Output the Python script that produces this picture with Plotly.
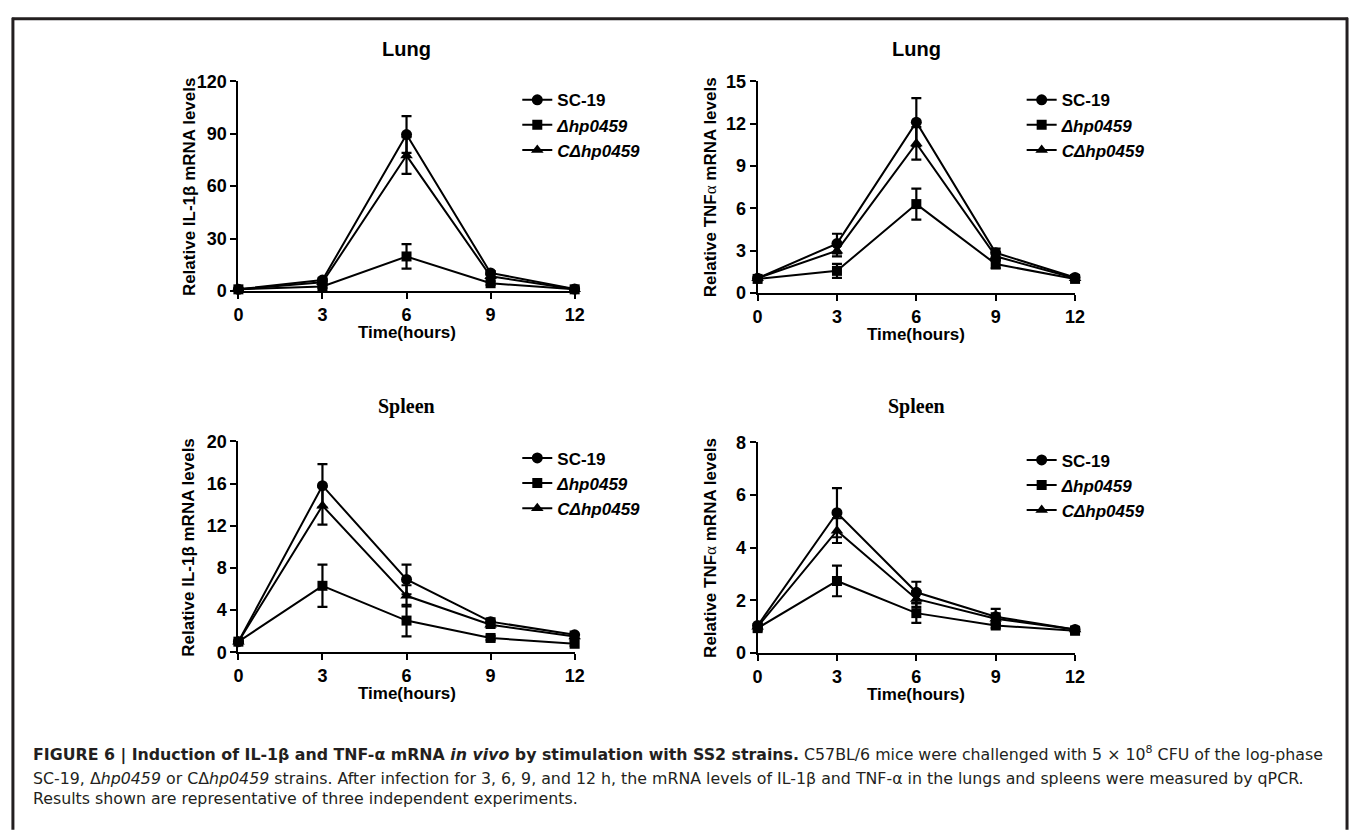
import plotly.graph_objects as go

W, H = 1360, 833

time_h = [0, 3, 6, 9, 12]
x_ticks = [0, 3, 6, 9, 12]
strains = ["SC-19", "Δhp0459", "CΔhp0459"]
legend_labels = ["<b>SC-19</b>", "<b><i>Δhp0459</i></b>", "<b><i>CΔhp0459</i></b>"]
symbols = ["circle", "square", "triangle-up"]

# Lung IL-1β
lung_il1b_sc19 = [1.0, 6.3, 89.5, 10.4, 1.2]
lung_il1b_sc19_err = [0.3, 1.0, 10.5, 1.0, 0.3]
lung_il1b_dhp = [1.0, 2.6, 19.8, 4.5, 1.0]
lung_il1b_dhp_err = [0.3, 0.8, 7.0, 1.0, 0.3]
lung_il1b_cdhp = [1.0, 5.0, 77.5, 8.5, 1.0]
lung_il1b_cdhp_err = [0.3, 1.0, 10.5, 1.0, 0.3]

# Lung TNFα
lung_tnf_sc19 = [1.05, 3.5, 12.1, 2.85, 1.1]
lung_tnf_sc19_err = [0.1, 0.7, 1.7, 0.3, 0.1]
lung_tnf_dhp = [1.0, 1.57, 6.3, 2.05, 1.0]
lung_tnf_dhp_err = [0.1, 0.5, 1.1, 0.3, 0.1]
lung_tnf_cdhp = [1.05, 3.0, 10.6, 2.6, 1.05]
lung_tnf_cdhp_err = [0.1, 0.4, 1.15, 0.3, 0.1]

# Spleen IL-1β
spl_il1b_sc19 = [1.0, 15.8, 6.9, 2.9, 1.65]
spl_il1b_sc19_err = [0.1, 2.05, 1.4, 0.3, 0.3]
spl_il1b_dhp = [1.0, 6.3, 3.0, 1.35, 0.8]
spl_il1b_dhp_err = [0.1, 2.0, 1.5, 0.2, 0.2]
spl_il1b_cdhp = [1.0, 13.9, 5.35, 2.6, 1.5]
spl_il1b_cdhp_err = [0.1, 1.8, 1.0, 0.3, 0.3]

# Spleen TNFα
spl_tnf_sc19 = [1.05, 5.33, 2.31, 1.38, 0.9]
spl_tnf_sc19_err = [0.1, 0.93, 0.4, 0.3, 0.1]
spl_tnf_dhp = [0.95, 2.74, 1.52, 1.05, 0.85]
spl_tnf_dhp_err = [0.1, 0.58, 0.37, 0.1, 0.1]
spl_tnf_cdhp = [1.0, 4.65, 2.06, 1.31, 0.9]
spl_tnf_cdhp_err = [0.1, 0.47, 0.3, 0.2, 0.1]

alpha = "<span style='font-family:Liberation Serif;font-weight:normal'>α</span>"
panels = [
    dict(title="<b>Lung</b>", title_font="Liberation Sans",
         ytitle="Relative IL-1β mRNA levels", ymax=120, dtick=30,
         series=[(lung_il1b_sc19, lung_il1b_sc19_err), (lung_il1b_dhp, lung_il1b_dhp_err), (lung_il1b_cdhp, lung_il1b_cdhp_err)],
         box=(236, 576, 73, 288), legend_xy=(518, 74), ytitle_x=186, title_y=40),
    dict(title="<b>Lung</b>", title_font="Liberation Sans",
         ytitle="Relative TNF" + alpha + " mRNA levels", ymax=15, dtick=3,
         series=[(lung_tnf_sc19, lung_tnf_sc19_err), (lung_tnf_dhp, lung_tnf_dhp_err), (lung_tnf_cdhp, lung_tnf_cdhp_err)],
         box=(761, 1082, 73, 290), legend_xy=(1028, 74), ytitle_x=713, title_y=40),
    dict(title="<b>Spleen</b>", title_font="Liberation Serif",
         ytitle="Relative IL-1β mRNA levels", ymax=20, dtick=4,
         series=[(spl_il1b_sc19, spl_il1b_sc19_err), (spl_il1b_dhp, spl_il1b_dhp_err), (spl_il1b_cdhp, spl_il1b_cdhp_err)],
         box=(236, 576, 442, 658), legend_xy=(518, 441), ytitle_x=186, title_y=406),
    dict(title="<b>Spleen</b>", title_font="Liberation Serif",
         ytitle="Relative TNF" + alpha + " mRNA levels", ymax=8, dtick=2,
         series=[(spl_tnf_sc19, spl_tnf_sc19_err), (spl_tnf_dhp, spl_tnf_dhp_err), (spl_tnf_cdhp, spl_tnf_cdhp_err)],
         box=(761, 1082, 443, 659), legend_xy=(1028, 443), ytitle_x=714, title_y=406),
]

def px_x(p):
    return p / W

def px_y(p):
    return 1 - p / H

fig = go.Figure()
annotations = []
layout = dict(width=W, height=H, margin=dict(l=0, r=0, t=0, b=0),
              paper_bgcolor="white", plot_bgcolor="white", showlegend=True)

font_main = "Liberation Sans"

for i, p in enumerate(panels):
    n = i + 1
    xa = "x" if n == 1 else f"x{n}"
    ya = "y" if n == 1 else f"y{n}"
    lg = "legend" if n == 1 else f"legend{n}"
    x0, x1, y0, y1 = p["box"]
    for k, (vals, errs) in enumerate(p["series"]):
        fig.add_trace(go.Scatter(
            x=time_h, y=vals, mode="lines+markers", name=legend_labels[k],
            xaxis=xa, yaxis=ya, legend=lg, legendgroup=f"g{n}_{k}",
            line=dict(color="black", width=2),
            marker=dict(symbol=symbols[k], size=10 if k == 1 else 11, color="black"),
            error_y=dict(type="data", array=errs, visible=True, color="black", thickness=2.2, width=5),
            cliponaxis=False,
        ))
    axis_common = dict(showline=True, linecolor="black", linewidth=2, ticks="outside",
                       ticklen=6, tickwidth=2, tickcolor="black", showgrid=False, zeroline=False,
                       tickfont=dict(family=font_main, size=18, color="black", weight="bold"))
    layout["xaxis" if n == 1 else f"xaxis{n}"] = dict(
        domain=[px_x(x0), px_x(x1)], range=[0, 12], tickvals=x_ticks,
        anchor=ya, **axis_common)
    layout["yaxis" if n == 1 else f"yaxis{n}"] = dict(
        domain=[px_y(y1), px_y(y0)], range=[0, p["ymax"]], dtick=p["dtick"], tick0=0,
        anchor=xa, **axis_common)
    lx, ly = p["legend_xy"]
    layout[lg] = dict(x=px_x(lx), y=px_y(ly), xanchor="left", yanchor="top",
                      font=dict(family=font_main, size=17, color="black"),
                      bgcolor="rgba(0,0,0,0)", tracegroupgap=0, itemwidth=30)
    annotations.append(dict(text=p["title"], x=px_x((x0 + x1) / 2), y=px_y(p["title_y"]),
                            xref="paper", yref="paper", showarrow=False, xanchor="center", yanchor="middle",
                            font=dict(family=p["title_font"], size=20, color="black")))
    annotations.append(dict(text="<b>" + p["ytitle"] + "</b>", x=px_x(p["ytitle_x"]), y=px_y((y0 + y1) / 2),
                            xref="paper", yref="paper", showarrow=False, textangle=-90,
                            xanchor="center", yanchor="middle",
                            font=dict(family=font_main, size=17, color="black")))
    annotations.append(dict(text="<b>Time(hours)</b>", x=px_x((x0 + x1) / 2), y=px_y(y1 + 42),
                            xref="paper", yref="paper", showarrow=False, xanchor="center", yanchor="middle",
                            font=dict(family=font_main, size=17, color="black")))

cap_font = dict(family="DejaVu Sans", size=15.8, color="#231f20")
cap_lines = [
    "<b>FIGURE 6 | Induction of IL-1β and TNF-α mRNA <i>in vivo</i> by stimulation with SS2 strains.</b> C57BL/6 mice were challenged with 5 × 10<sup>8</sup> CFU of the log-phase",
    "SC-19, Δ<i>hp0459</i> or CΔ<i>hp0459</i> strains. After infection for 3, 6, 9, and 12 h, the mRNA levels of IL-1β and TNF-α in the lungs and spleens were measured by qPCR.",
    "Results shown are representative of three independent experiments.",
]
cap_y = [762, 787, 808]
for t, yy in zip(cap_lines, cap_y):
    annotations.append(dict(text=t, x=px_x(26), y=px_y(yy), xref="paper", yref="paper",
                            showarrow=False, xanchor="left", yanchor="middle", font=cap_font))

frame_col = "#231f20"
shapes = [
    dict(type="line", xref="paper", yref="paper", x0=px_x(7), x1=px_x(1358), y0=px_y(9), y1=px_y(9),
         line=dict(color=frame_col, width=3)),
    dict(type="line", xref="paper", yref="paper", x0=px_x(8), x1=px_x(8), y0=px_y(8), y1=px_y(840),
         line=dict(color=frame_col, width=3)),
    dict(type="line", xref="paper", yref="paper", x0=px_x(1357), x1=px_x(1357), y0=px_y(8), y1=px_y(840),
         line=dict(color=frame_col, width=3)),
]

layout["annotations"] = annotations
layout["shapes"] = shapes
fig.update_layout(**layout)
fig.write_html("out.html", config={"displayModeBar": False},
               post_script="document.body.style.margin='0px';document.body.style.overflow='hidden';")
